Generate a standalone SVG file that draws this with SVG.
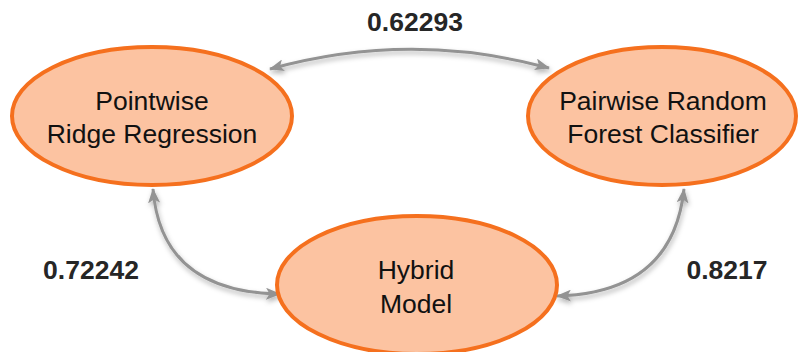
<svg xmlns="http://www.w3.org/2000/svg" width="798" height="352" viewBox="0 0 798 352">
<style>
.node ellipse{fill:#FCC3A1;stroke:#F5701E;stroke-width:4}
.node text{font-family:"Liberation Sans",Arial,sans-serif;font-size:26.5px;fill:#111;text-anchor:middle}
.lbl{font-family:"Liberation Sans",Arial,sans-serif;font-size:26.5px;font-weight:bold;fill:#262626;text-anchor:middle}
.conn path{fill:none;stroke:#939393;stroke-width:3;marker-start:url(#ah);marker-end:url(#ah)}
</style>
<defs>
<marker id="ah" viewBox="0 0 15 12" refX="14" refY="6" markerWidth="15" markerHeight="12" markerUnits="userSpaceOnUse" orient="auto-start-reverse">
<path d="M0,0 L15,6 L0,12 L3.5,6 Z" fill="#939393"/>
</marker>
<filter id="sh" x="-20%" y="-20%" width="140%" height="140%">
<feDropShadow dx="1" dy="3" stdDeviation="2.5" flood-color="#000" flood-opacity="0.3"/>
</filter>
</defs>
<g class="conn" filter="url(#sh)">
<path d="M270,69 Q410,30 549,68"/>
<path d="M153,189 Q161,292 280,294"/>
<path d="M684,189 Q673,293 557,296"/>
</g>
<g id="pointwise" class="node">
<ellipse cx="152" cy="116" rx="140" ry="69"/>
<text x="152" y="110">Pointwise</text>
<text x="152" y="143">Ridge Regression</text>
</g>
<g id="pairwise" class="node">
<ellipse cx="662" cy="116" rx="134" ry="69"/>
<text x="663" y="110">Pairwise Random</text>
<text x="663" y="143">Forest Classifier</text>
</g>
<g id="hybrid" class="node">
<ellipse cx="417" cy="285" rx="140" ry="69"/>
<text x="416" y="279">Hybrid</text>
<text x="416" y="313">Model</text>
</g>
<text class="lbl" x="415" y="31">0.62293</text>
<text class="lbl" x="91" y="279">0.72242</text>
<text class="lbl" x="727" y="279">0.8217</text>
</svg>
